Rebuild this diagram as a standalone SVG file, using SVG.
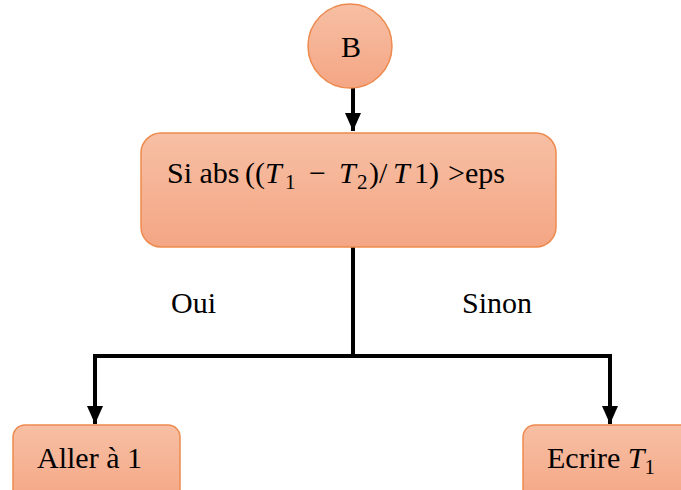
<svg xmlns="http://www.w3.org/2000/svg" width="681" height="490" viewBox="0 0 681 490">
  <style>
    .node { fill: url(#peach); stroke: #EE8A4E; stroke-width: 1.5; }
    text { font-family: 'Liberation Serif', 'DejaVu Serif', serif; font-size: 30px; fill: #000; }
    .it { font-style: italic; }
    .sub { font-size: 21px; }
    .wire { fill: none; stroke: #000; stroke-width: 4; }
  </style>
  <defs>
    <linearGradient id="peach" x1="0" y1="0" x2="0" y2="1">
      <stop offset="0" stop-color="#F7BFA4"/>
      <stop offset="1" stop-color="#F4A684"/>
    </linearGradient>
    <marker id="head" markerWidth="4.5" markerHeight="4" refX="4.5" refY="2" orient="auto" markerUnits="strokeWidth">
      <path d="M0,0 L4.5,2 L0,4 Z" fill="#000"/>
    </marker>
  </defs>

  <g id="connectors">
    <path class="wire" d="M353,88 V131" marker-end="url(#head)"/>
    <path class="wire" d="M353,247 V356"/>
    <path class="wire" d="M353,356 H95 V424" marker-end="url(#head)"/>
    <path class="wire" d="M353,356 H610 V424" marker-end="url(#head)"/>
    <text x="171" y="313">Oui</text>
    <text x="462" y="313">Sinon</text>
  </g>

  <g id="node-b">
    <circle class="node" cx="350" cy="46" r="42"/>
    <text x="351" y="57" text-anchor="middle">B</text>
  </g>

  <g id="node-test">
    <rect class="node" x="141" y="133" width="415" height="114" rx="20"/>
    <text y="183"><tspan x="167">Si abs</tspan><tspan x="245">((</tspan><tspan x="265" class="it">T</tspan><tspan x="285" y="189" class="sub">1</tspan><tspan x="309" y="183">−</tspan><tspan x="339" class="it">T</tspan><tspan x="357" y="189" class="sub">2</tspan><tspan x="369" y="183">)/</tspan><tspan x="393" class="it">T</tspan><tspan x="414">1)</tspan><tspan x="448">&gt;eps</tspan></text>
  </g>

  <g id="node-aller">
    <rect class="node" x="13" y="425" width="167" height="80" rx="12"/>
    <text x="37" y="468">Aller à 1</text>
  </g>

  <g id="node-ecrire">
    <rect class="node" x="523" y="425" width="180" height="80" rx="12"/>
    <text x="547" y="468">Ecrire <tspan class="it">T</tspan><tspan class="sub" dy="6">1</tspan></text>
  </g>
</svg>
